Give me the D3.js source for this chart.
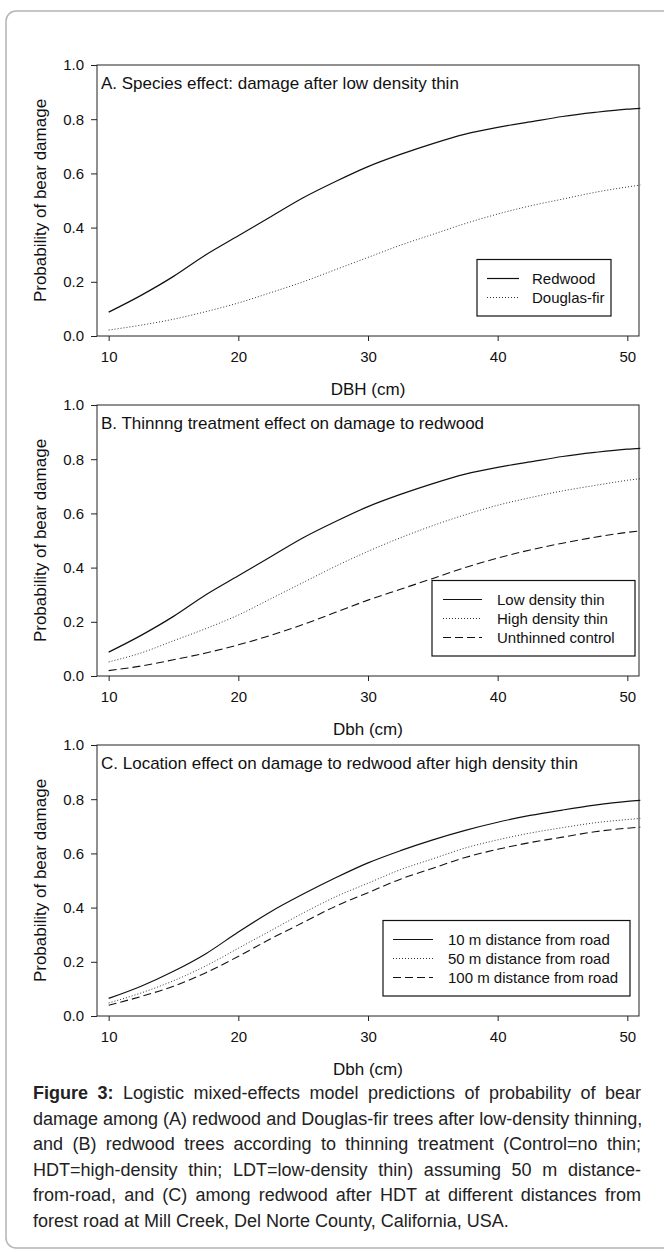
<!DOCTYPE html>
<html>
<head>
<meta charset="utf-8">
<script src="https://cdn.jsdelivr.net/npm/d3@7"></script>
<style>
  body { margin: 0; background: #fff; }
  #wrap { position: relative; width: 664px; height: 1252px; overflow: hidden; }
  svg { position: absolute; left: 0; top: 0; }
  .caption { position: absolute; left: 33px; top: 1081px; width: 608px;
    font-family: "Liberation Sans", Arial, sans-serif; font-size: 18px; line-height: 25.5px; color: #222; }
  .caption div { text-align: justify; text-align-last: justify; white-space: nowrap; }
  .caption div.last { text-align-last: left; }
</style>
</head>
<body>
<div id="wrap"></div>
<script>
const dbh = [10, 12.5, 15, 17.5, 20, 22.5, 25, 27.5, 30, 32.5, 35, 37.5, 40, 42.5, 45, 47.5, 50, 51];

// A. species effect
const redwoodLDT = [0.088, 0.15, 0.22, 0.30, 0.37, 0.44, 0.51, 0.57, 0.625, 0.67, 0.71, 0.745, 0.77, 0.79, 0.81, 0.825, 0.837, 0.84];
const douglasLDT = [0.022, 0.04, 0.062, 0.09, 0.122, 0.16, 0.20, 0.245, 0.29, 0.335, 0.375, 0.415, 0.45, 0.48, 0.505, 0.53, 0.55, 0.557];

// B. thinning treatment
const lowThin = redwoodLDT;
const highThin = [0.052, 0.085, 0.13, 0.175, 0.225, 0.285, 0.345, 0.405, 0.46, 0.51, 0.555, 0.595, 0.63, 0.658, 0.683, 0.703, 0.722, 0.728];
const control = [0.02, 0.037, 0.06, 0.085, 0.115, 0.15, 0.19, 0.235, 0.28, 0.32, 0.36, 0.40, 0.435, 0.465, 0.49, 0.512, 0.53, 0.535];

// C. distance from road
const road10 = [0.065, 0.11, 0.165, 0.23, 0.31, 0.385, 0.45, 0.51, 0.565, 0.61, 0.65, 0.685, 0.715, 0.74, 0.76, 0.778, 0.792, 0.796];
const road50 = [0.048, 0.085, 0.13, 0.185, 0.25, 0.315, 0.38, 0.44, 0.49, 0.54, 0.58, 0.62, 0.65, 0.675, 0.695, 0.713, 0.725, 0.729];
const road100 = [0.04, 0.072, 0.11, 0.16, 0.22, 0.285, 0.345, 0.405, 0.455, 0.505, 0.545, 0.585, 0.615, 0.64, 0.66, 0.68, 0.693, 0.697];

const xTicks = [10, 20, 30, 40, 50];
const yTicks = [0, 0.2, 0.4, 0.6, 0.8, 1.0];

const titles = [
  "A. Species effect: damage after low density thin",
  "B. Thinnng treatment effect on damage to redwood",
  "C. Location effect on damage to redwood after high density thin"
];
const xTitles = ["DBH (cm)", "Dbh (cm)", "Dbh (cm)"];
const yTitle = "Probability of bear damage";

const captionLines = [
  "<b>Figure 3:</b> Logistic mixed-effects model predictions of probability of bear",
  "damage among (A) redwood and Douglas-fir trees after low-density thinning,",
  "and (B) redwood trees according to thinning treatment (Control=no thin;",
  "HDT=high-density thin; LDT=low-density thin) assuming 50 m distance-",
  "from-road, and (C) among redwood after HDT at different distances from",
  "forest road at Mill Creek, Del Norte County, California, USA."
];

const styles = {
  solid:  { stroke: "#111", width: 1.2, dash: null },
  dotted: { stroke: "#333", width: 1, dash: "1,2" },
  dashed: { stroke: "#111", width: 1.1, dash: "8,4" }
};

const panels = [
  { series: [
      { name: "Redwood", values: redwoodLDT, style: "solid" },
      { name: "Douglas-fir", values: douglasLDT, style: "dotted" }],
    legend: { x0: 477, x1: 611, lineX: [487, 519], textX: 532 } },
  { series: [
      { name: "Low density thin", values: lowThin, style: "solid" },
      { name: "High density thin", values: highThin, style: "dotted" },
      { name: "Unthinned control", values: control, style: "dashed" }],
    legend: { x0: 432, x1: 635, lineX: [443, 482], textX: 497 } },
  { series: [
      { name: "10 m distance from road", values: road10, style: "solid" },
      { name: "50 m distance from road", values: road50, style: "dotted" },
      { name: "100 m distance from road", values: road100, style: "dashed" }],
    legend: { x0: 383, x1: 630, lineX: [393, 433], textX: 448 } }
];

const W = 664, H = 1252;
const font = "'Liberation Sans', Arial, sans-serif";
const tops = [65, 405, 745];
const plotH = 271;
const left = 97, right = 639;

const wrap = d3.select("#wrap");
const svg = wrap.append("svg").attr("width", W).attr("height", H);

// outer rounded frame
svg.append("rect")
  .attr("x", 6).attr("y", 11)
  .attr("width", 680).attr("height", 1237)
  .attr("rx", 10)
  .attr("fill", "none")
  .attr("stroke", "#b4b4b4")
  .attr("stroke-width", 1.5);

const x = d3.scaleLinear().domain([9.1, 50.9]).range([left, right]);

panels.forEach((p, i) => {
  const top = tops[i], bottom = top + plotH;
  const y = d3.scaleLinear().domain([0, 1]).range([bottom, top]);
  const g = svg.append("g");

  // axes
  g.append("g")
    .attr("transform", `translate(0,${bottom})`)
    .call(d3.axisBottom(x).tickValues(xTicks).tickSize(5).tickPadding(10).tickFormat(d3.format("d")))
    .call(a => a.select(".domain").remove());
  g.append("g")
    .attr("transform", `translate(${left},0)`)
    .call(d3.axisLeft(y).tickValues(yTicks).tickSize(6).tickPadding(7).tickFormat(d3.format(".1f")))
    .call(a => a.select(".domain").remove());
  g.selectAll(".tick text").attr("font-family", font).attr("font-size", 15).attr("fill", "#111");
  g.selectAll(".tick line").attr("stroke", "#222");

  // plot frame
  g.append("rect")
    .attr("x", left).attr("y", top)
    .attr("width", right - left).attr("height", plotH)
    .attr("fill", "none").attr("stroke", "#222").attr("stroke-width", 1);

  // curves
  const line = d3.line()
    .x((d, k) => x(dbh[k]))
    .y(d => y(d))
    .curve(d3.curveMonotoneX);
  p.series.forEach(s => {
    const st = styles[s.style];
    g.append("path")
      .attr("d", line(s.values))
      .attr("fill", "none")
      .attr("stroke", st.stroke)
      .attr("stroke-width", st.width)
      .attr("stroke-dasharray", st.dash);
  });

  // panel title
  g.append("text")
    .attr("x", left + 4).attr("y", top + 24)
    .attr("font-family", font).attr("font-size", 17).attr("fill", "#111")
    .text(titles[i]);

  // axis titles
  g.append("text")
    .attr("x", x(30)).attr("y", bottom + 59)
    .attr("text-anchor", "middle")
    .attr("font-family", font).attr("font-size", 17).attr("fill", "#111")
    .text(xTitles[i]);
  g.append("text")
    .attr("transform", `translate(46,${(top + bottom) / 2}) rotate(-90)`)
    .attr("text-anchor", "middle")
    .attr("font-family", font).attr("font-size", 17).attr("fill", "#111")
    .text(yTitle);

  // legend
  const n = p.series.length, rowH = 19;
  const lastRow = bottom - 38.5;
  const boxBottom = bottom - 20;
  const boxTop = lastRow - (n - 1) * rowH - 19;
  const L = p.legend;
  g.append("rect")
    .attr("x", L.x0).attr("y", boxTop)
    .attr("width", L.x1 - L.x0).attr("height", boxBottom - boxTop)
    .attr("fill", "#fff").attr("stroke", "#111").attr("stroke-width", 1.2);
  p.series.forEach((s, k) => {
    const ry = lastRow - (n - 1 - k) * rowH;
    const st = styles[s.style];
    g.append("line")
      .attr("x1", L.lineX[0]).attr("x2", L.lineX[1])
      .attr("y1", ry).attr("y2", ry)
      .attr("stroke", st.stroke).attr("stroke-width", st.width)
      .attr("stroke-dasharray", st.dash);
    g.append("text")
      .attr("x", L.textX).attr("y", ry).attr("dy", "0.35em")
      .attr("font-family", font).attr("font-size", 15).attr("fill", "#111")
      .text(s.name);
  });
});

// caption
wrap.append("div").attr("class", "caption")
  .selectAll("div").data(captionLines).join("div")
  .attr("class", (d, i) => i === captionLines.length - 1 ? "last" : null)
  .html(d => d);
</script>
</body>
</html>
